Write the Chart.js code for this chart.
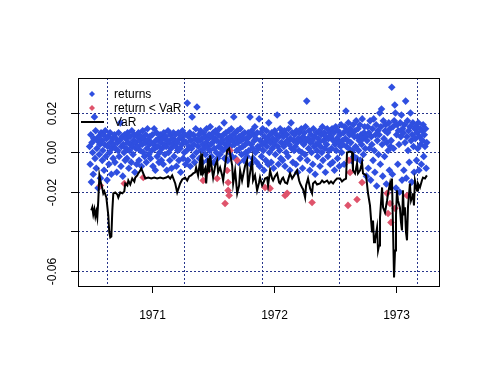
<!DOCTYPE html>
<html>
<head>
<meta charset="utf-8">
<script src="https://cdn.jsdelivr.net/npm/chart.js@4"></script>
<style>
  body { margin: 0; background: #fff; }
  canvas { display: block; }
</style>
</head>
<body>
<canvas id="chart" width="480" height="384"></canvas>
<script>
// daily returns, evenly spaced trading days
const returnStart = 1970.49
const returnStep = 0.004937
const returns = [
  0.003, -0.006, 0.009, -0.015, 0.005, 0.000, -0.011, 0.007, 0.018, -0.003, 0.011, -0.008, 0.002, 0.006, -0.018, 0.008, -0.001, 0.004, -0.013, 0.010,
  0.006, -0.004, 0.001, 0.009, -0.009, 0.004, 0.011, -0.002, 0.007, -0.014, 0.003, 0.008, -0.006, 0.000, 0.010, 0.005, -0.011, 0.002, 0.007, -0.003,
  0.004, 0.009, -0.005, 0.002, 0.007, -0.010, 0.005, 0.001, 0.010, -0.002, 0.006, 0.015, -0.007, 0.003, 0.008, -0.012, 0.004, 0.000, 0.009, -0.004,
  0.007, 0.002, -0.003, 0.010, 0.005, -0.008, 0.001, 0.008, 0.004, -0.005, 0.011, 0.003, -0.001, 0.006, 0.009, -0.010, 0.005, 0.002, -0.006, 0.008,
  0.003, 0.010, -0.004, 0.006, 0.001, 0.008, -0.007, 0.004, 0.011, 0.000, 0.007, -0.002, 0.005, 0.009, -0.005, 0.002, 0.012, 0.006, -0.001, 0.004,
  0.008, -0.003, 0.005, 0.001, 0.009, -0.007, 0.004, 0.012, 0.002, -0.009, 0.006, 0.010, -0.002, 0.003, 0.007, -0.005, 0.000, 0.009, 0.005, -0.004,
  0.002, 0.007, -0.006, 0.010, 0.004, -0.001, 0.008, 0.003, -0.009, 0.006, 0.011, 0.000, 0.005, -0.004, 0.009, 0.002, -0.008, 0.007, 0.004, 0.010,
  -0.002, 0.006, 0.009, 0.003, -0.007, 0.005, 0.001, 0.010, -0.004, 0.007, 0.002, -0.010, 0.008, 0.004, 0.011, -0.003, 0.006, 0.000, 0.009, -0.006,
  0.005, 0.001, 0.025, -0.004, 0.008, 0.003, 0.010, -0.007, 0.006, 0.002, 0.018, -0.002, 0.009, 0.004, -0.005, 0.007, 0.012, 0.000, 0.023, 0.006,
  0.003, 0.009, -0.003, 0.006, 0.011, 0.001, 0.007, -0.005, 0.004, 0.010, 0.002, 0.008, -0.001, 0.005, 0.012, 0.003, -0.004, 0.007, 0.009, 0.001,
  0.013, 0.004, -0.002, 0.008, 0.005, 0.010, -0.005, 0.002, 0.007, 0.011, 0.000, 0.006, -0.003, 0.009, 0.003, 0.012, -0.001, 0.005, 0.008, 0.002,
  0.006, 0.001, 0.009, 0.015, -0.003, 0.004, 0.010, 0.002, 0.007, -0.004, 0.005, 0.011, 0.000, 0.008, 0.003, 0.012, -0.002, 0.006, 0.009, 0.018,
  0.004, 0.010, -0.003, 0.007, 0.001, 0.011, 0.005, -0.005, 0.008, 0.002, 0.012, 0.006, -0.001, 0.009, 0.003, 0.007, -0.004, 0.010, 0.004, 0.000,
  0.007, -0.002, 0.005, 0.010, 0.001, 0.008, 0.018, -0.006, 0.004, 0.011, 0.002, -0.003, 0.009, 0.006, 0.013, 0.000, 0.007, -0.005, 0.010, 0.003,
  0.002, 0.017, -0.007, 0.006, 0.010, -0.002, 0.004, 0.012, 0.001, -0.009, 0.008, 0.005, -0.004, 0.011, 0.003, 0.007, -0.006, 0.015, 0.000, 0.009,
  0.005, -0.005, 0.010, 0.002, 0.007, -0.008, 0.004, 0.011, -0.001, 0.006, 0.009, 0.019, 0.003, -0.006, 0.008, 0.001, 0.012, -0.003, 0.005, 0.010,
  -0.004, 0.008, 0.003, 0.011, -0.007, 0.005, 0.000, 0.009, 0.006, -0.002, 0.012, 0.004, -0.009, 0.007, 0.015, 0.002, 0.010, -0.005, 0.006, 0.001,
  0.009, 0.003, -0.006, 0.011, 0.005, -0.010, 0.007, 0.001, 0.010, -0.003, 0.006, 0.012, 0.000, -0.008, 0.008, 0.004, 0.010, -0.001, 0.013, 0.006,
  0.026, -0.004, 0.007, 0.002, 0.011, -0.009, 0.005, 0.009, 0.000, 0.006, -0.006, 0.012, 0.003, 0.008, -0.011, 0.004, 0.010, 0.001, -0.002, 0.007,
  0.005, 0.011, -0.007, 0.003, 0.009, 0.000, 0.013, -0.004, 0.006, 0.010, 0.002, -0.010, 0.008, 0.004, 0.012, -0.002, 0.007, 0.001, 0.010, -0.006,
  0.008, 0.002, 0.012, -0.005, 0.006, 0.010, -0.009, 0.004, 0.013, 0.001, 0.007, -0.003, 0.011, 0.005, -0.007, 0.009, 0.003, 0.014, 0.000, 0.006,
  0.004, 0.010, -0.006, 0.013, 0.007, 0.021, 0.003, 0.011, 0.006, 0.015, 0.002, 0.009, 0.012, 0.005, -0.004, 0.010, 0.001, 0.014, -0.002, 0.008,
  0.011, 0.003, 0.016, -0.003, 0.008, 0.012, 0.001, 0.006, 0.014, -0.004, 0.009, 0.004, 0.017, 0.007, -0.001, 0.010, 0.013, 0.002, 0.008, -0.012,
  0.006, 0.013, -0.008, 0.010, 0.002, 0.016, -0.014, 0.008, 0.004, 0.012, -0.004, 0.017, 0.001, -0.010, 0.009, 0.014, -0.017, 0.006, 0.011, -0.001,
  0.009, 0.020, -0.006, 0.013, 0.022, 0.004, -0.012, 0.016, 0.007, -0.002, 0.011, 0.014, -0.016, 0.005, 0.010, 0.001, 0.015, -0.009, 0.012, 0.003,
  0.006, 0.033, -0.011, 0.013, 0.002, 0.016, 0.024, 0.020, -0.018, 0.009, 0.014, -0.006, 0.011, 0.004, -0.020, 0.015, 0.008, 0.019, -0.014, 0.012,
  0.010, -0.009, 0.014, 0.005, 0.026, -0.013, 0.008, 0.016, 0.001, 0.011, -0.005, 0.013, 0.020, 0.006, -0.015, 0.009, 0.015, 0.003, -0.010, 0.012,
  0.007, 0.013, -0.004, 0.010, 0.002, 0.015, -0.009, 0.008, 0.012, 0.004, -0.006, 0.011, 0.006, 0.014, -0.002, 0.009, 0.003, 0.012, -0.008, 0.005
]

// returns below VaR
const breachDates = [1970.578, 1970.774, 1970.929, 1971.419, 1971.460, 1971.534, 1971.616, 1971.624, 1971.624, 1971.632, 1971.599, 1971.640, 1971.698,
  1971.926, 1971.967, 1972.090, 1972.107, 1972.311, 1972.605, 1972.679, 1972.613, 1972.622, 1972.720, 1972.925, 1972.949, 1972.933, 1972.957, 1972.990, 1973.088]
const breachValues = [-0.0167, -0.0157, -0.0127, -0.0142, -0.0091, -0.0132, -0.0091, -0.0152, -0.0192, -0.0218, -0.0258, 0.0010, -0.0040,
  -0.0177, -0.0182, -0.0218, -0.0207, -0.0253, -0.0268, -0.0238, -0.0040, -0.0101, -0.0152, -0.0207, -0.0258, -0.0309, -0.0354, -0.0283, -0.0218]

// VaR line
const varDates = [
  1970.504, 1970.512, 1970.520, 1970.529, 1970.537, 1970.545, 1970.553, 1970.561, 1970.570, 1970.578,
  1970.586, 1970.594, 1970.602, 1970.610, 1970.627, 1970.643, 1970.651, 1970.659, 1970.668, 1970.676,
  1970.684, 1970.700, 1970.717, 1970.725, 1970.741, 1970.758, 1970.774, 1970.782, 1970.799, 1970.807,
  1970.823, 1970.839, 1970.856, 1970.864, 1970.880, 1970.888, 1970.905, 1970.913, 1970.929, 1970.946,
  1970.970, 1970.995, 1971.019, 1971.043, 1971.068, 1971.092, 1971.117, 1971.133, 1971.150, 1971.166,
  1971.191, 1971.207, 1971.223, 1971.231, 1971.248, 1971.272, 1971.289, 1971.305, 1971.321, 1971.338,
  1971.354, 1971.362, 1971.378, 1971.395, 1971.403, 1971.411, 1971.419, 1971.436, 1971.444, 1971.460,
  1971.469, 1971.477, 1971.493, 1971.501, 1971.518, 1971.534, 1971.542, 1971.558, 1971.575, 1971.583,
  1971.599, 1971.616, 1971.632, 1971.640, 1971.657, 1971.665, 1971.681, 1971.698, 1971.714, 1971.722,
  1971.738, 1971.763, 1971.779, 1971.787, 1971.804, 1971.820, 1971.828, 1971.844, 1971.861, 1971.877,
  1971.885, 1971.902, 1971.910, 1971.926, 1971.943, 1971.951, 1971.967, 1971.984, 1971.992, 1972.008,
  1972.025, 1972.041, 1972.049, 1972.066, 1972.074, 1972.090, 1972.107, 1972.123, 1972.131, 1972.148,
  1972.164, 1972.188, 1972.205, 1972.213, 1972.229, 1972.238, 1972.254, 1972.262, 1972.278, 1972.295,
  1972.311, 1972.319, 1972.336, 1972.352, 1972.376, 1972.393, 1972.409, 1972.434, 1972.450, 1972.466,
  1972.483, 1972.499, 1972.515, 1972.540, 1972.556, 1972.573, 1972.589, 1972.597, 1972.622, 1972.638,
  1972.646, 1972.663, 1972.679, 1972.687, 1972.704, 1972.720, 1972.728, 1972.753, 1972.769, 1972.785,
  1972.802, 1972.810, 1972.818, 1972.826, 1972.843, 1972.851, 1972.859, 1972.867, 1972.884, 1972.892,
  1972.908, 1972.925, 1972.933, 1972.949, 1972.957, 1972.965, 1972.974, 1972.982, 1972.990, 1972.998,
  1973.006, 1973.014, 1973.030, 1973.039, 1973.047, 1973.055, 1973.063, 1973.071, 1973.080, 1973.088,
  1973.096, 1973.112, 1973.121, 1973.129, 1973.137, 1973.145, 1973.153, 1973.170, 1973.178, 1973.194,
  1973.210, 1973.219, 1973.235, 1973.251
]
const varValues = [
  -0.0293, -0.0278, -0.0314, -0.0288, -0.0324, -0.0299, -0.0329, -0.0243, -0.0116, -0.0142,
  -0.0162, -0.0182, -0.0207, -0.0197, -0.0228, -0.0319, -0.0405, -0.0430, -0.0425, -0.0293,
  -0.0207, -0.0202, -0.0213, -0.0228, -0.0202, -0.0207, -0.0197, -0.0157, -0.0167, -0.0142,
  -0.0162, -0.0132, -0.0147, -0.0127, -0.0116, -0.0106, -0.0091, -0.0081, -0.0106, -0.0132,
  -0.0127, -0.0132, -0.0127, -0.0132, -0.0127, -0.0132, -0.0127, -0.0121, -0.0132, -0.0116,
  -0.0157, -0.0202, -0.0172, -0.0157, -0.0137, -0.0127, -0.0142, -0.0121, -0.0116, -0.0106,
  -0.0101, -0.0076, -0.0116, -0.0040, -0.0116, -0.0005, -0.0106, -0.0081, -0.0157, -0.0030,
  -0.0101, -0.0015, -0.0091, -0.0127, -0.0066, -0.0040, -0.0101, -0.0076, -0.0116, -0.0142,
  -0.0066, 0.0010, 0.0020, -0.0005, -0.0066, -0.0157, -0.0091, -0.0207, -0.0167, -0.0091,
  -0.0142, -0.0066, -0.0040, -0.0177, -0.0101, -0.0040, -0.0142, -0.0116, -0.0192, -0.0152,
  -0.0127, -0.0167, -0.0157, -0.0132, -0.0127, -0.0167, -0.0091, -0.0132, -0.0142, -0.0121,
  -0.0106, -0.0152, -0.0157, -0.0132, -0.0127, -0.0152, -0.0157, -0.0121, -0.0106, -0.0132,
  -0.0116, -0.0091, -0.0142, -0.0157, -0.0177, -0.0187, -0.0228, -0.0167, -0.0132, -0.0182,
  -0.0207, -0.0157, -0.0147, -0.0162, -0.0157, -0.0142, -0.0152, -0.0142, -0.0157, -0.0147,
  -0.0157, -0.0142, -0.0132, -0.0132, -0.0147, -0.0137, -0.0132, 0.0000, 0.0005, 0.0000,
  -0.0091, -0.0106, -0.0056, -0.0106, -0.0091, -0.0051, -0.0106, -0.0116, -0.0207, -0.0268,
  -0.0405, -0.0344, -0.0455, -0.0445, -0.0380, -0.0496, -0.0471, -0.0329, -0.0177, -0.0278,
  -0.0304, -0.0243, -0.0207, -0.0157, -0.0192, -0.0132, -0.0395, -0.0633, -0.0496, -0.0319,
  -0.0192, -0.0243, -0.0278, -0.0354, -0.0395, -0.0192, -0.0319, -0.0278, -0.0405, -0.0445,
  -0.0278, -0.0157, -0.0243, -0.0228, -0.0207, -0.0268, -0.0142, -0.0192, -0.0157, -0.0177,
  -0.0142, -0.0127, -0.0132, -0.0116
]

const yTicks = [0.02, 0.00, -0.02, -0.04, -0.06]
const yTickLabels = ["0.02", "0.00", "-0.02", "", "-0.06"]
const xTicks = [1971, 1972, 1973]
const xTickLabels = ["1971", "1972", "1973"]
const xGrid = [1970.631, 1971.262, 1971.902, 1972.533, 1973.172]

const blue = "#2f4fe0"
const pink = "#df536b"
const font = "12px 'Liberation Sans', Arial, sans-serif"

// base-graphics style frame, ticks, grid and legend
const rFrame = {
  id: "rFrame",
  beforeDatasetsDraw(chart) {
    const {ctx, chartArea: a, scales: {x, y}} = chart
    ctx.save()
    ctx.strokeStyle = "#27358c"
    ctx.lineWidth = 1
    ctx.setLineDash([2, 2])
    yTicks.forEach(v => {
      const py = Math.round(y.getPixelForValue(v)) + 0.5
      ctx.beginPath(); ctx.moveTo(a.left, py); ctx.lineTo(a.right, py); ctx.stroke()
    })
    xGrid.forEach(v => {
      const px = Math.round(x.getPixelForValue(v)) + 0.5
      ctx.beginPath(); ctx.moveTo(px, a.top); ctx.lineTo(px, a.bottom); ctx.stroke()
    })
    ctx.restore()
  },
  afterDraw(chart) {
    const {ctx, chartArea: a, scales: {x, y}} = chart
    ctx.save()
    ctx.strokeStyle = "#000"
    ctx.lineWidth = 1
    ctx.strokeRect(a.left + 0.5, a.top + 0.5, a.right - a.left, a.bottom - a.top)
    ctx.fillStyle = "#000"
    ctx.font = font
    ctx.textAlign = "center"
    ctx.textBaseline = "middle"
    yTicks.forEach((v, i) => {
      const py = Math.round(y.getPixelForValue(v)) + 0.5
      ctx.beginPath(); ctx.moveTo(a.left, py); ctx.lineTo(a.left - 7, py); ctx.stroke()
      if (yTickLabels[i]) {
        ctx.save()
        ctx.translate(53, py)
        ctx.rotate(-Math.PI / 2)
        ctx.fillText(yTickLabels[i], 0, 0)
        ctx.restore()
      }
    })
    xTicks.forEach((v, i) => {
      const px = Math.round(x.getPixelForValue(v)) + 0.5
      ctx.beginPath(); ctx.moveTo(px, a.bottom); ctx.lineTo(px, a.bottom + 7); ctx.stroke()
      ctx.fillText(xTickLabels[i], px, a.bottom + 30)
    })

    // legend
    const diamond = (cx, cy, r, col) => {
      ctx.fillStyle = col
      ctx.beginPath()
      ctx.moveTo(cx, cy - r); ctx.lineTo(cx + r, cy); ctx.lineTo(cx, cy + r); ctx.lineTo(cx - r, cy)
      ctx.closePath(); ctx.fill()
    }
    diamond(92, 94, 3, blue)
    diamond(92, 108, 3, pink)
    ctx.lineWidth = 2
    ctx.beginPath(); ctx.moveTo(81, 122); ctx.lineTo(104, 122); ctx.stroke()
    ctx.fillStyle = "#000"
    ctx.textAlign = "left"
    ctx.fillText("returns", 114, 95)
    ctx.fillText("return < VaR", 114, 109)
    ctx.fillText("VaR", 114, 123)
    ctx.restore()
  }
}

new Chart(document.getElementById("chart"), {
  type: "scatter",
  data: {
    datasets: [
      {
        label: "returns",
        data: returns.map((v, i) => ({x: returnStart + i * returnStep, y: v})),
        pointStyle: "rectRot", pointRadius: 3.8, borderWidth: 0,
        backgroundColor: blue, order: 3
      },
      {
        label: "return < VaR",
        data: breachValues.map((v, i) => ({x: breachDates[i], y: v})),
        pointStyle: "rectRot", pointRadius: 3.8, borderWidth: 0,
        backgroundColor: pink, order: 2
      },
      {
        label: "VaR",
        type: "line",
        data: varValues.map((v, i) => ({x: varDates[i], y: v})),
        borderColor: "#000", borderWidth: 2, pointRadius: 0, fill: false,
        tension: 0, order: 1
      }
    ]
  },
  options: {
    responsive: false,
    animation: false,
    devicePixelRatio: 1,
    layout: {padding: {left: 78, top: 78, right: 41, bottom: 98}},
    scales: {
      x: {type: "linear", min: 1970.395, max: 1973.35, display: false},
      y: {type: "linear", min: -0.0676, max: 0.0377, display: false}
    },
    plugins: {legend: {display: false}, tooltip: {enabled: false}}
  },
  plugins: [rFrame]
})
</script>
</body>
</html>
